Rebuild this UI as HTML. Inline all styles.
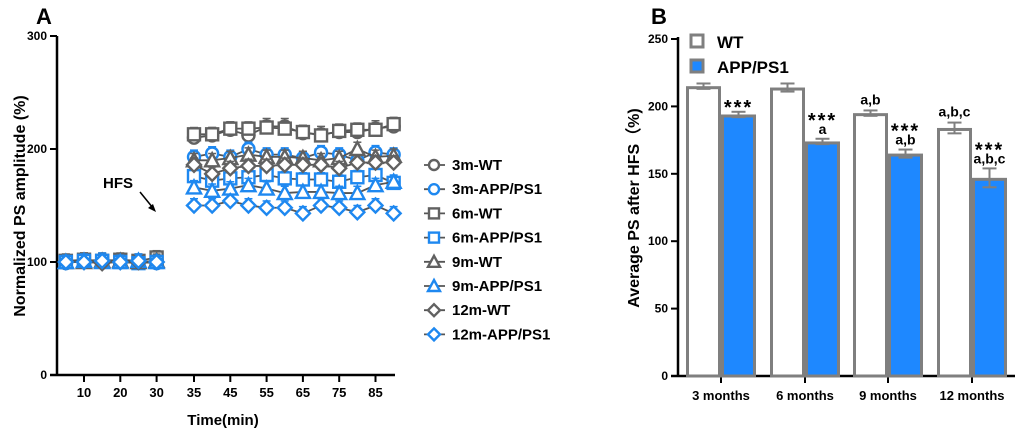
<!DOCTYPE html>
<html><head><meta charset="utf-8"><style>
body{margin:0;background:#fff;}
svg{display:block;font-family:"Liberation Sans",Arial,sans-serif;font-weight:bold;}
</style></head><body>
<svg id="c" width="1020" height="433" viewBox="0 0 1020 433" xmlns="http://www.w3.org/2000/svg"></svg>
<script>
// Panel A data
const preTimes=[5,10,15,20,25,30];
const postTimes=[35,40,45,50,55,60,65,70,75,80,85,90];
const xTicksA=[10,20,30,35,45,55,65,75,85];
const yTicksA=[0,100,200,300];
const seriesNames=['3m-WT','3m-APP/PS1','6m-WT','6m-APP/PS1','9m-WT','9m-APP/PS1','12m-WT','12m-APP/PS1'];
const seriesShapes=['circle','circle','square','square','triangle','triangle','diamond','diamond'];
const seriesColors=['#616161','#1e88f0','#616161','#1e88f0','#616161','#1e88f0','#616161','#1e88f0'];
const pre3WT=[100,101,101,100,100,101];
const pre3APP=[99,101,102,101,100,99];
const pre6WT=[101,102,101,102,101,104];
const pre6APP=[100,101,101,100,99,100];
const pre9WT=[100,100,101,101,100,101];
const pre9APP=[100,101,100,100,101,100];
const pre12WT=[100,100,99,100,100,100];
const pre12APP=[100,100,101,100,101,100];
const post3WT=[210,212,217,212,220,220,214,213,215,215,218,220];
const post3APP=[193,196,193,200,195,195,192,197,195,190,197,195];
const post6WT=[213,213,218,218,219,218,215,212,216,217,217,222];
const post6APP=[176,172,174,175,177,174,173,173,171,175,177,170];
const post9WT=[190,190,192,195,193,193,192,190,192,200,193,194];
const post9APP=[166,163,165,168,165,161,162,162,161,161,168,171];
const post12WT=[186,178,183,185,185,186,186,186,183,188,188,188];
const post12APP=[150,150,154,150,148,148,143,150,148,144,150,143];
const errA=[7,6,6,6,6,6,6,6];
// Panel B data
const ageGroups=['3 months','6 months','9 months','12 months'];
const wtMeans=[215,214,195,184];
const appMeans=[194,174,165,147];
const wtErr=[2,3,2,4];
const appErr=[2,2,3,7];
const wtLetters=['','','a,b','a,b,c'];
const appLetters=['','a','a,b','a,b,c'];
const yTicksB=[0,50,100,150,200,250];

const svg=document.getElementById('c');
const NS='http://www.w3.org/2000/svg';
function el(tag,attrs,parent){const e=document.createElementNS(NS,tag);for(const k in attrs)e.setAttribute(k,attrs[k]);(parent||svg).appendChild(e);return e;}
function txt(s,attrs,parent){const e=el('text',attrs,parent);e.textContent=s;return e;}

const xA=t=> t<=30 ? 84+(t-10)*3.63 : 194+(t-35)*3.63;
const yA=v=> 375-v*1.13;
txt('A',{x:36,y:24,'font-size':22,fill:'#000'});
const gA=el('g',{});


el('line',{x1:57,y1:36,x2:57,y2:376,stroke:'#000','stroke-width':2.5},gA);
el('line',{x1:50,y1:375,x2:395,y2:375,stroke:'#000','stroke-width':2.5},gA);
yTicksA.forEach(v=>{el('line',{x1:50,y1:yA(v),x2:57,y2:yA(v),stroke:'#000','stroke-width':2},gA);
 const t=txt(v,{x:47,y:yA(v)+4,'font-size':12,'text-anchor':'end'},gA);
 });
xTicksA.forEach(v=>{el('line',{x1:xA(v),y1:375,x2:xA(v),y2:382,stroke:'#000','stroke-width':2},gA);
 const t=txt(v,{x:xA(v),y:397,'font-size':13,'text-anchor':'middle'},gA);
 });
const xtA=txt('Time(min)',{x:223,y:425,'font-size':15,'text-anchor':'middle'});

const ytA=txt('Normalized PS amplitude (%)',{x:0,y:0,'font-size':16,'text-anchor':'middle',transform:'translate(25,206) rotate(-90)'});

txt('HFS',{x:103,y:188,'font-size':15});
el('line',{x1:140,y1:192,x2:153,y2:208,stroke:'#000','stroke-width':1.5});
el('polygon',{points:'156,212 148,208 153,204',fill:'#000'});

function marker(shape,cx,cy,color,parent,r){
 r=r||6;const a={fill:'#fff',stroke:color,'stroke-width':2.4};
 if(shape==='circle')return el('circle',Object.assign({cx,cy,r},a),parent);
 if(shape==='square')return el('rect',Object.assign({x:cx-r,y:cy-r,width:2*r,height:2*r},a),parent);
 if(shape==='triangle')return el('polygon',Object.assign({points:`${cx},${cy-r-1} ${cx+r+1},${cy+r} ${cx-r-1},${cy+r}`},a),parent);
 return el('polygon',Object.assign({points:`${cx},${cy-r-1} ${cx+r+1},${cy} ${cx},${cy+r+1} ${cx-r-1},${cy}`},a),parent);
}
const preData=[pre3WT,pre3APP,pre6WT,pre6APP,pre9WT,pre9APP,pre12WT,pre12APP];
const postData=[post3WT,post3APP,post6WT,post6APP,post9WT,post9APP,post12WT,post12APP];
seriesNames.forEach((name,i)=>{
 const g=el('g',{});
 
 
 const col=seriesColors[i];
 [[preTimes,preData[i]],[postTimes,postData[i]]].forEach(([ts,vs])=>{
  el('polyline',{points:ts.map((t,j)=>xA(t)+','+yA(vs[j])).join(' '),fill:'none',stroke:'#555','stroke-width':1.8},g);
  ts.forEach((t,j)=>{const x=xA(t),y=yA(vs[j]),e=errA[i]*1.13;
   el('line',{x1:x,y1:y,x2:x,y2:y-e,stroke:col,'stroke-width':1.5},g);
   el('line',{x1:x-4,y1:y-e,x2:x+4,y2:y-e,stroke:col,'stroke-width':1.5},g);
   const m=marker(seriesShapes[i],x,y,col,g);
   
   
  });
 });
 const ly=165+i*24.2;
 const lg=el('g',{});
 
 
 el('line',{x1:424,y1:ly,x2:445,y2:ly,stroke:'#555','stroke-width':1.8},lg);
 marker(seriesShapes[i],434,ly,col,lg,5);
 txt(name,{x:452,y:ly+5,'font-size':15},lg);
});

const yB=v=>376-v*1.348;
const catX=[721,805,888,972];
txt('B',{x:651,y:24,'font-size':22});
const gB=el('g',{});


el('line',{x1:678,y1:37,x2:678,y2:377,stroke:'#000','stroke-width':2.5},gB);
el('line',{x1:671,y1:376,x2:1015,y2:376,stroke:'#000','stroke-width':2.5},gB);
yTicksB.forEach(v=>{el('line',{x1:671,y1:yB(v),x2:678,y2:yB(v),stroke:'#000','stroke-width':2},gB);
 txt(v,{x:668,y:yB(v)+4,'font-size':12,'text-anchor':'end'},gB);});
ageGroups.forEach((a,i)=>{el('line',{x1:catX[i],y1:376,x2:catX[i],y2:383,stroke:'#000','stroke-width':2},gB);
 txt(a,{x:catX[i],y:400,'font-size':13,'text-anchor':'middle'},gB);});
txt('Average PS after HFS（%)',{x:0,y:0,'font-size':16,'text-anchor':'middle',transform:'translate(639,208) rotate(-90)'});
function bar(x,v,err,fill,name){
 const b=el('rect',{x:x+1.5,y:yB(v)+1.5,width:32,height:376-yB(v)-1.5,fill,stroke:'#7f7f7f','stroke-width':3});
 
 
 const cx=x+17.5,y1=yB(v+err),y2=yB(v-err);
 el('line',{x1:cx,y1,x2:cx,y2,stroke:'#7f7f7f','stroke-width':2});
 el('line',{x1:cx-7,y1,x2:cx+7,y2:y1,stroke:'#7f7f7f','stroke-width':2});
 el('line',{x1:cx-7,y1:y2,x2:cx+7,y2:y2,stroke:'#7f7f7f','stroke-width':2});
}
ageGroups.forEach((a,i)=>{
 bar(catX[i]-35,wtMeans[i],wtErr[i],'#fff','bar-wt-'+(i+1));
 bar(catX[i],appMeans[i],appErr[i],'#1e88ff','bar-app-'+(i+1));
 const wx=catX[i]-17.5, ax=catX[i]+17.5;
 if(wtLetters[i])txt(wtLetters[i],{x:wx,y:yB(wtMeans[i]+wtErr[i])-6,'font-size':14,'text-anchor':'middle'});
 let ty=yB(appMeans[i]+appErr[i])-5;
 if(appLetters[i]){txt(appLetters[i],{x:ax,y:ty,'font-size':14,'text-anchor':'middle'});ty-=14;}
 txt('***',{x:ax,y:ty+7,'font-size':20,'text-anchor':'middle','letter-spacing':'2'});
});
const l1=el('g',{});


el('rect',{x:691,y:35,width:12,height:12,fill:'#fff',stroke:'#7f7f7f','stroke-width':3},l1);
txt('WT',{x:717,y:48,'font-size':17},l1);
const l2=el('g',{});


el('rect',{x:691,y:60,width:12,height:12,fill:'#1e88ff',stroke:'#7f7f7f','stroke-width':3},l2);
txt('APP/PS1',{x:717,y:73,'font-size':17},l2);
</script>
</body></html>
